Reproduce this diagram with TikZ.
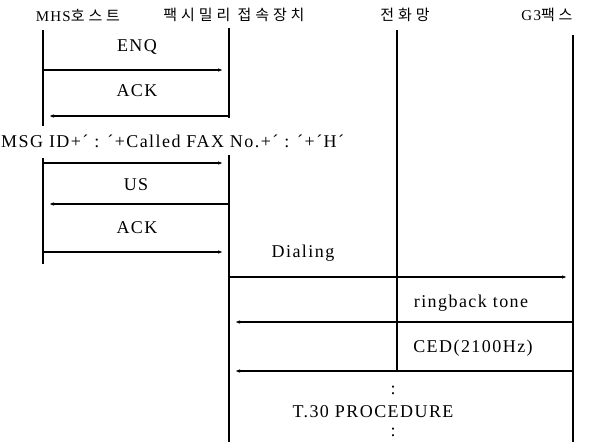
\documentclass[tikz,border=0pt]{standalone}
\usepackage{fontspec}
\setmainfont[LetterSpace=8]{Liberation Serif}
\newfontfamily\krfont[LetterSpace=26]{Noto Sans CJK KR}
\usetikzlibrary{arrows.meta}

\begin{document}
\begin{tikzpicture}[x=1pt,y=-1pt,
    lifeline/.style={line width=1.1pt},
    msg/.style={line width=1.1pt,-{Latex[length=5pt,width=3.5pt]},shorten >=6pt},
    lbl/.style={font=\fontsize{18}{20}\selectfont,inner sep=0pt},
    hdr/.style={font=\fontsize{15}{17}\selectfont,inner sep=0pt}
  ]
  \useasboundingbox (0,0) rectangle (594,442);
  % headers
  \node[hdr] (host) at (78,15) {MHS\krfont 호스트};
  \node[hdr] (fax) at (234,15) {\krfont 팩시밀리 접속장치};
  \node[hdr] (net) at (405,15) {\krfont 전화망};
  \node[hdr] (g3) at (547,15) {G3\krfont 팩스};
  % lifelines
  \coordinate (hostA) at (43,30);  \coordinate (hostB) at (43,126);
  \coordinate (hostC) at (43,158); \coordinate (hostD) at (43,264);
  \coordinate (faxA) at (229,28);  \coordinate (faxB) at (229,118);
  \coordinate (faxC) at (229,155); \coordinate (faxD) at (229,442);
  \coordinate (netA) at (397,30);  \coordinate (netB) at (397,372);
  \coordinate (g3A) at (573,35);   \coordinate (g3B) at (573,442);
  \draw[lifeline] (hostA) -- (hostB);
  \draw[lifeline] (hostC) -- (hostD);
  \draw[lifeline] (faxA) -- (faxB);
  \draw[lifeline] (faxC) -- (faxD);
  \draw[lifeline] (netA) -- (netB);
  \draw[lifeline] (g3A) -- (g3B);
  % message rows
  \coordinate (enq) at (0,70);
  \coordinate (ack1) at (0,116);
  \coordinate (msgid) at (0,163);
  \coordinate (us) at (0,204);
  \coordinate (ack2) at (0,252);
  \coordinate (dial) at (0,277);
  \coordinate (ring) at (0,322);
  \coordinate (ced) at (0,371);
  % labels
  \node[lbl] (enqlbl) at (137,47) {ENQ};
  \node[lbl] (ack1lbl) at (137,91) {ACK};
  \node[lbl,anchor=west] (msgidlbl) at (1,141) {MSG ID+´ : ´+Called FAX No.+´ : ´+´H´};
  \node[lbl] (uslbl) at (136,185) {US};
  \node[lbl] (ack2lbl) at (137,228) {ACK};
  \node[lbl] (diallbl) at (303,253) {Dialing};
  \node[lbl] (ringlbl) at (471,303) {ringback tone};
  \node[lbl] (cedlbl) at (473,348) {CED(2100Hz)};
  \node[lbl] (dotsA) at (393,390) {:};
  \node[lbl] (t30) at (373,412) {T.30 PROCEDURE};
  \node[lbl] (dotsB) at (393,432) {:};
  % messages
  \draw[msg] (hostA |- enq) -- (faxA |- enq);
  \draw[msg] (faxA |- ack1) -- (hostA |- ack1);
  \draw[msg] (hostC |- msgid) -- (faxC |- msgid);
  \draw[msg] (faxC |- us) -- (hostC |- us);
  \draw[msg] (hostC |- ack2) -- (faxC |- ack2);
  \draw[msg] (faxC |- dial) -- (g3A |- dial);
  \draw[msg] (g3A |- ring) -- (faxC |- ring);
  \draw[msg] (g3A |- ced) -- (faxC |- ced);
\end{tikzpicture}
\end{document}
